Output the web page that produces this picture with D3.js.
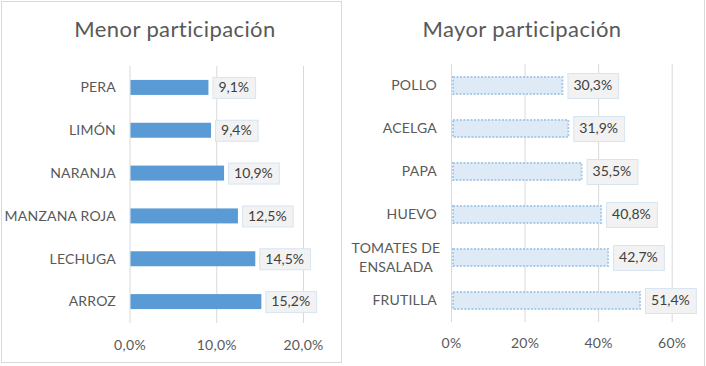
<!DOCTYPE html>
<html><head><meta charset="utf-8">
<script src="https://cdn.jsdelivr.net/npm/d3@7"></script>
<style>body{margin:0;background:#fff}svg{display:block}</style>
</head><body><svg id="c" width="706" height="366"></svg>
<script>
const leftTitle = "Menor participación";
const leftCategories = ["PERA","LIMÓN","NARANJA","MANZANA ROJA","LECHUGA","ARROZ"];
const leftValues = [9.1, 9.4, 10.9, 12.5, 14.5, 15.2];
const leftTicks = [0, 10, 20];
const rightTitle = "Mayor participación";
const rightCategories = ["POLLO","ACELGA","PAPA","HUEVO","TOMATES DE|ENSALADA","FRUTILLA"];
const rightValues = [30.3, 31.9, 35.5, 40.8, 42.7, 51.4];
const rightTicks = [0, 20, 40, 60];

const FONT = "Lato, 'Open Sans', sans-serif";
const TXT = "#595959";
const svg = d3.select("#c");

// panel borders
svg.append("rect").attr("x",1.5).attr("y",1.5).attr("width",340).attr("height",361)
  .attr("fill","none").attr("stroke","#d9d9d9");
svg.append("line").attr("x1",704.5).attr("x2",704.5).attr("y1",0).attr("y2",366).attr("stroke","#d9d9d9");

const fmtComma = (v,d) => v.toFixed(d).replace(".",",") + "%";

function drawChart(cfg){
  const g = svg.append("g");
  const x = d3.scaleLinear().domain(cfg.xDomain).range(cfg.xRange);
  const y = d3.scaleBand().domain(cfg.cats).range(cfg.yRange).paddingInner(cfg.pad).paddingOuter(cfg.pad/2);
  // title
  g.append("text").attr("x",cfg.titleX).attr("y",37).attr("text-anchor","middle")
    .attr("font-family",FONT).attr("font-size",22).attr("letter-spacing",0.4).attr("fill",TXT).text(cfg.title);
  // grid
  g.selectAll(".grid").data(cfg.ticks).join("line")
    .attr("x1",d=>x(d)+0.5).attr("x2",d=>x(d)+0.5)
    .attr("y1",cfg.yRange[0]).attr("y2",cfg.yRange[1])
    .attr("stroke","#d9d9d9").attr("stroke-width",1);
  // axis tick labels via d3 axis
  const ax = g.append("g").attr("transform",`translate(0,${cfg.tickY})`)
    .call(d3.axisBottom(x).tickValues(cfg.ticks).tickSize(0).tickPadding(0).tickFormat(cfg.tickFmt));
  ax.select(".domain").remove();
  ax.selectAll("text").attr("font-family",FONT).attr("font-size",14).attr("letter-spacing",0.3).attr("fill",TXT).attr("dy","0.35em");
  // category labels
  cfg.cats.forEach(c=>{
    const lines = c.split("|");
    const cy = y(c)+y.bandwidth()/2;
    const t = g.append("text").attr("font-family",FONT).attr("font-size",14).attr("letter-spacing",0.2).attr("fill",TXT);
    if(lines.length===1){
      t.attr("x",cfg.labelX).attr("y",cy).attr("dy","0.35em").attr("text-anchor","end").text(c);
    } else {
      t.attr("text-anchor","middle");
      lines.forEach((l,i)=>{
        t.append("tspan").attr("x",cfg.multiX).attr("y",cy+(i-(lines.length-1)/2)*19).attr("dy","0.35em").text(l);
      });
    }
  });
  // bars
  cfg.cats.forEach((c,i)=>{
    const v = cfg.vals[i];
    const r = g.append("rect").attr("x",x(0)+cfg.barInset).attr("y",y(c))
      .attr("width",x(v)-x(0)-cfg.barInset).attr("height",y.bandwidth())
      .attr("fill",cfg.fill);
    if(cfg.stroke){ r.attr("stroke",cfg.stroke).attr("stroke-width",2).attr("stroke-dasharray","2,1.5"); }
    // data label
    const cy = y(c)+y.bandwidth()/2;
    const lg = g.append("g");
    const txt = lg.append("text").attr("font-family",FONT).attr("font-size",14).attr("fill","#404040")
      .attr("x",x(v)+cfg.lblGap+6).attr("y",cy).attr("dy","0.35em").text(fmtComma(v,1));
    const w = txt.node().getComputedTextLength();
    lg.insert("rect","text").attr("x",x(v)+cfg.lblGap+0.5).attr("y",cy-cfg.boxH/2+0.5)
      .attr("width",w+12).attr("height",cfg.boxH).attr("fill","#f2f2f2").attr("stroke","#d6e4f3");
  });
}

drawChart({title:leftTitle,titleX:175,cats:leftCategories,vals:leftValues,ticks:leftTicks,
  xDomain:[0,20],xRange:[129.5,303],yRange:[66,323],pad:0.65,tickY:345,
  tickFmt:d=>d.toFixed(1).replace(".",",")+"%",labelX:116,multiX:80,
  fill:"#5b9bd5",stroke:null,barInset:1,lblGap:4,boxH:21});
drawChart({title:rightTitle,titleX:522,cats:rightCategories,vals:rightValues,ticks:rightTicks,
  xDomain:[0,60],xRange:[451,671.7],yRange:[64,322],pad:0.6,tickY:343,
  tickFmt:d=>d+"%",labelX:437,multiX:396,
  fill:"#deebf7",stroke:"#a9cbea",barInset:2,lblGap:5,boxH:25});
</script></body></html>
